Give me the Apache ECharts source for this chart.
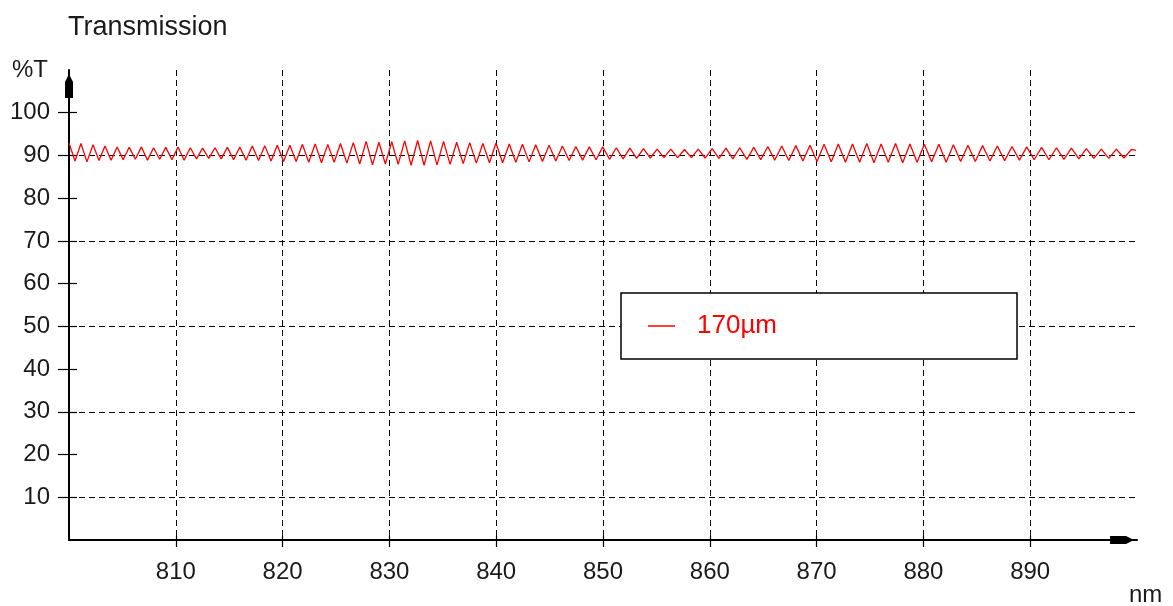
<!DOCTYPE html>
<html>
<head>
<meta charset="utf-8">
<script src="https://cdn.jsdelivr.net/npm/echarts@6/dist/echarts.min.js"></script>
<style>
  html, body { margin: 0; padding: 0; background: #fff; }
  #chart { width: 1173px; height: 606px; }
</style>
</head>
<body>
<div id="chart"></div>
<script>
// Wavelength (nm) of each turning point of the fringe pattern
const wavelength = [
  800.00,800.56,801.12,801.68,802.25,802.81,803.37,803.94,804.51,805.07,805.64,806.21,806.78,807.35,807.92,808.49,809.06,809.64,810.21,810.78,
  811.36,811.94,812.51,813.09,813.67,814.25,814.83,815.41,815.99,816.58,817.16,817.75,818.33,818.92,819.50,820.09,820.68,821.27,821.86,822.45,
  823.05,823.64,824.23,824.83,825.42,826.02,826.62,827.22,827.82,828.42,829.02,829.62,830.22,830.82,831.43,832.03,832.64,833.25,833.86,834.46,
  835.07,835.68,836.30,836.91,837.52,838.14,838.75,839.37,839.98,840.60,841.22,841.84,842.46,843.08,843.70,844.33,844.95,845.58,846.20,846.83,
  847.46,848.09,848.72,849.35,849.98,850.61,851.25,851.88,852.52,853.15,853.79,854.43,855.07,855.71,856.35,856.99,857.63,858.28,858.92,859.57,
  860.22,860.86,861.51,862.16,862.81,863.47,864.12,864.77,865.43,866.08,866.74,867.40,868.06,868.72,869.38,870.04,870.70,871.37,872.03,872.70,
  873.36,874.03,874.70,875.37,876.04,876.71,877.39,878.06,878.74,879.41,880.09,880.77,881.45,882.13,882.81,883.49,884.17,884.86,885.54,886.23,
  886.92,887.61,888.30,888.99,889.68,890.37,891.07,891.76,892.46,893.16,893.86,894.56,895.26,895.96,896.66,897.36,898.07,898.78,899.48,899.90
];
// Transmission (%T), 170 µm sample
const transmission = [
  92.9,88.7,92.8,88.5,92.5,88.8,92.2,88.9,92.0,89.0,91.9,89.1,92.0,88.9,91.8,89.1,91.9,89.0,92.0,88.9,
  91.8,89.2,91.7,89.3,91.8,89.2,91.9,89.0,92.0,88.9,92.2,88.8,92.3,88.7,92.4,88.6,92.4,88.6,92.6,88.4,
  92.7,88.3,92.6,88.4,92.8,88.2,93.0,88.0,93.3,87.8,93.1,88.0,93.2,87.9,93.4,87.7,93.5,87.7,93.4,87.8,
  93.3,87.9,93.1,88.1,93.0,88.2,92.8,88.3,92.9,88.3,92.7,88.4,92.6,88.5,92.5,88.6,92.4,88.7,92.2,88.8,
  92.1,88.9,92.0,89.0,92.0,89.1,91.8,89.2,91.7,89.3,91.6,89.4,91.5,89.5,91.5,89.5,91.4,89.5,91.5,89.4,
  91.6,89.3,91.7,89.2,91.8,89.1,91.9,89.0,92.1,88.9,92.2,88.8,92.3,88.7,92.4,88.6,92.6,88.5,92.7,88.4,
  92.7,88.4,92.8,88.3,92.7,88.4,92.8,88.3,92.7,88.4,92.6,88.5,92.6,88.4,92.5,88.6,92.4,88.6,92.3,88.7,
  92.2,88.8,92.1,88.9,92.0,89.0,91.9,89.0,91.8,89.1,91.7,89.2,91.6,89.3,91.5,89.3,91.5,89.4,91.4,91.2
];
const seriesName = '170µm';
const xTickLabels = [810, 820, 830, 840, 850, 860, 870, 880, 890];
const yTickLabels = [10, 20, 30, 40, 50, 60, 70, 80, 90, 100];

const FONT = 'Liberation Sans, Arial, sans-serif';
const TXT = '#1a1a1a';
const arrowPath = 'path://M3,0 L5,0 L8,6 L8,22 L0,22 L0,6 Z';

const chart = echarts.init(document.getElementById('chart'), null, { renderer: 'canvas' });
chart.setOption({
  animation: false,
  backgroundColor: '#fff',
  textStyle: { fontFamily: FONT },
  title: {
    text: 'Transmission',
    left: 68, top: 14, padding: 0,
    textStyle: { fontFamily: FONT, fontSize: 27, fontWeight: 'normal', color: TXT }
  },
  graphic: [
    { type: 'text', left: 12, top: 58, style: { text: '%T', font: '24px Liberation Sans, Arial, sans-serif', fill: TXT } },
    { type: 'text', left: 1129, top: 583, style: { text: 'nm', font: '24px Liberation Sans, Arial, sans-serif', fill: TXT } }
  ],
  legend: {
    left: 621, top: 293,
    data: [{ name: seriesName, icon: 'rect' }],
    itemWidth: 27, itemHeight: 1.5,
    padding: [19, 240, 19, 27],
    borderColor: '#000', borderWidth: 1.5,
    backgroundColor: '#fff',
    textStyle: { fontFamily: FONT, fontSize: 26, lineHeight: 28, color: '#ff0000', padding: [0, 0, 0, 17] }
  },
  grid: { left: 69, right: 36, top: 70, bottom: 66, containLabel: false },
  xAxis: [{
    type: 'value', min: 800, max: 900, interval: 10,
    axisLine: { show: true, lineStyle: { color: '#000', width: 2 },
      symbol: ['none', arrowPath], symbolSize: [8, 22], symbolOffset: [0, -16] },
    axisTick: { show: true, inside: false, length: 7, customValues: xTickLabels, lineStyle: { color: '#000', width: 1.2 } },
    axisLabel: { customValues: xTickLabels, margin: 20, fontFamily: FONT, fontSize: 24, color: TXT },
    splitLine: { show: true, showMinLine: true, showMaxLine: true, lineStyle: { color: '#000', width: 1, type: [6, 4] } }
  }, {
    type: 'value', min: 800, max: 900, interval: 10, position: 'bottom', offset: 0,
    axisLine: { show: false },
    axisTick: { show: true, inside: true, length: 4, customValues: xTickLabels, lineStyle: { color: '#000', width: 1.2 } },
    axisLabel: { show: false },
    splitLine: { show: false }
  }],
  yAxis: [{
    type: 'value', min: 0, max: 110, interval: 10,
    axisLine: { show: true, lineStyle: { color: '#000', width: 2 },
      symbol: ['none', arrowPath], symbolSize: [8, 22], symbolOffset: [0, -17] },
    axisTick: { show: true, inside: false, length: 11, customValues: yTickLabels, lineStyle: { color: '#000', width: 1.2 } },
    axisLabel: { customValues: yTickLabels, margin: 19, fontFamily: FONT, fontSize: 24, color: TXT },
    splitLine: { show: true, showMinLine: true, showMaxLine: true,
      lineStyle: { color: ['#000', 'rgba(0,0,0,0)'], width: 1, type: [6, 4] } }
  }, {
    type: 'value', min: 0, max: 110, interval: 10, position: 'left', offset: 0,
    axisLine: { show: false },
    axisTick: { show: true, inside: true, length: 8, customValues: yTickLabels, lineStyle: { color: '#000', width: 1.2 } },
    axisLabel: { show: false },
    splitLine: { show: false }
  }],
  series: [{
    name: seriesName,
    type: 'line',
    xAxisIndex: 0, yAxisIndex: 0,
    symbol: 'none', showSymbol: false,
    lineStyle: { color: '#ff0000', width: 1.3 },
    itemStyle: { color: '#ff0000' },
    data: wavelength.map((w, i) => [w, transmission[i]])
  }]
});
</script>
</body>
</html>
